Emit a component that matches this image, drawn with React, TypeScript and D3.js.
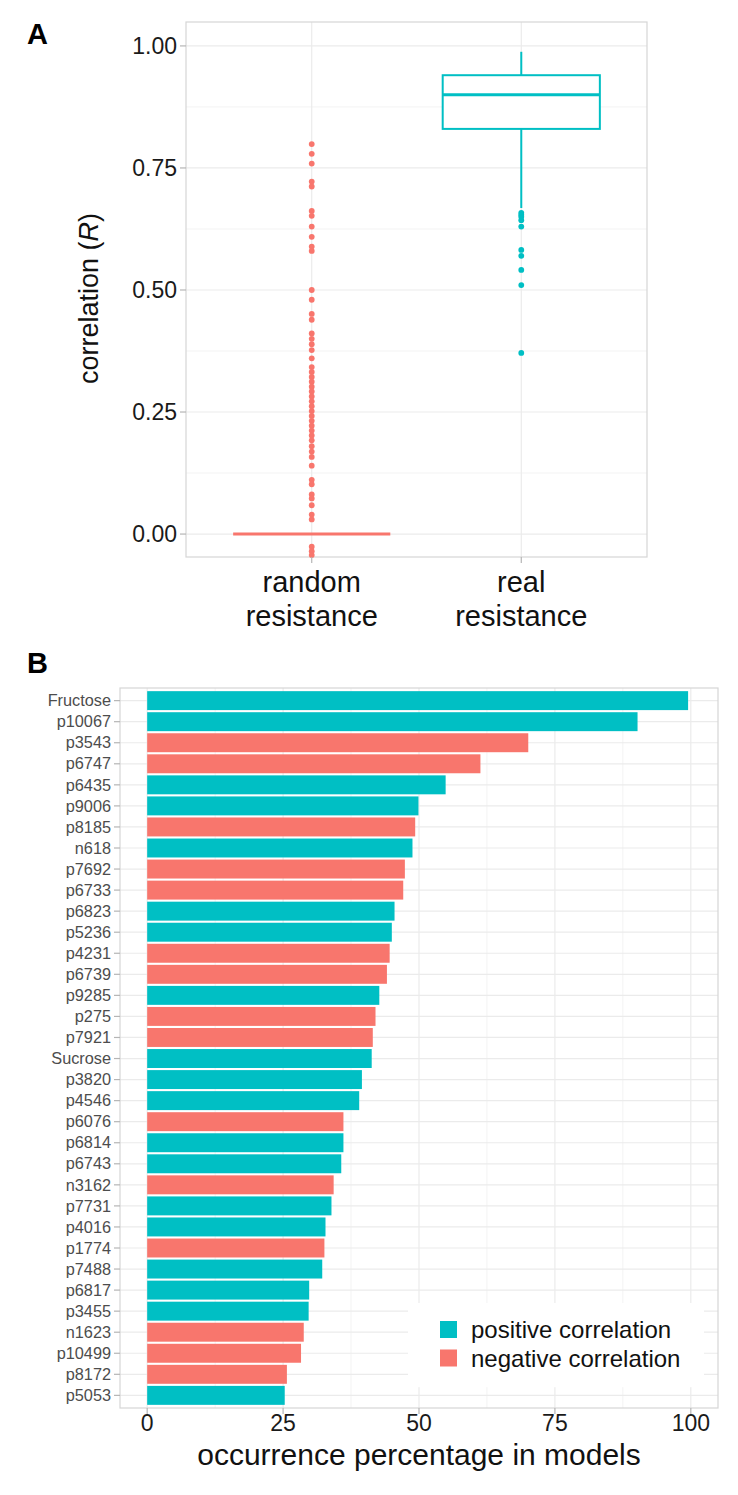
import React from 'react'
import { scaleLinear, scaleBand } from 'd3'

// panel A: correlation values
const groupsA = ['random resistance', 'real resistance']
const yTicksA = [0, 0.25, 0.5, 0.75, 1]
const yMinorA = [0.125, 0.375, 0.625, 0.875]
// real resistance box stats: lower whisker, q1, median, q3, upper whisker
const realBox = [0.668, 0.83, 0.9, 0.94, 0.988]
const realOutliers = [0.658, 0.654, 0.65, 0.643, 0.63, 0.582, 0.57, 0.541, 0.51, 0.371]
// random resistance collapses on zero
const randomBox = [0, 0, 0, 0, 0]
const randomOutliers = [
  0.799, 0.779, 0.759, 0.722, 0.712, 0.662, 0.652, 0.63, 0.609, 0.589, 0.58,
  0.5, 0.48, 0.451, 0.439, 0.411, 0.4, 0.389, 0.377, 0.36,
  0.342, 0.332, 0.322, 0.312, 0.302, 0.292, 0.282, 0.272, 0.262, 0.252,
  0.242, 0.232, 0.222, 0.212, 0.202, 0.192, 0.18, 0.169, 0.158,
  0.14, 0.111, 0.102, 0.081, 0.073, 0.059, 0.04, 0.03, -0.026, -0.035, -0.043,
]

// panel B: occurrence percentage
const features = [
  'Fructose', 'p10067', 'p3543', 'p6747', 'p6435', 'p9006', 'p8185', 'n618',
  'p7692', 'p6733', 'p6823', 'p5236', 'p4231', 'p6739', 'p9285', 'p275',
  'p7921', 'Sucrose', 'p3820', 'p4546', 'p6076', 'p6814', 'p6743', 'n3162',
  'p7731', 'p4016', 'p1774', 'p7488', 'p6817', 'p3455', 'n1623', 'p10499',
  'p8172', 'p5053',
]
const occurrence = [
  99.5, 90.2, 70.1, 61.3, 54.9, 49.9, 49.3, 48.8,
  47.4, 47.1, 45.5, 45.0, 44.6, 44.1, 42.7, 42.0,
  41.5, 41.3, 39.5, 39.0, 36.1, 36.1, 35.7, 34.3,
  33.9, 32.8, 32.6, 32.2, 29.8, 29.7, 28.8, 28.3,
  25.7, 25.3,
]
const direction = [
  '+', '+', '-', '-', '+', '+', '-', '+',
  '-', '-', '+', '+', '-', '-', '+', '-',
  '-', '+', '+', '+', '-', '+', '+', '-',
  '+', '+', '-', '+', '+', '+', '-', '-',
  '-', '+',
]
const xTicksB = [0, 25, 50, 75, 100]
const xMinorB = [12.5, 37.5, 62.5, 87.5]
const legendLabels = ['positive correlation', 'negative correlation']

const TEAL = '#00BFC4'
const RED = '#F8766D'
const GRID = '#ebebeb'
const MINOR = '#f3f3f3'
const BORDER = '#d6d6d6'
const TICK = '#b5b5b5'
const FONT = '"Liberation Sans", Arial, Helvetica, sans-serif'

function PanelA() {
  const left = 186, right = 647, top = 22, bottom = 557
  const x = scaleBand().domain(groupsA).range([left, right]).paddingInner(0.25).paddingOuter(0.225)
  const y = scaleLinear().domain([-0.047, 1.049]).range([bottom, top])
  const groups = [
    { name: groupsA[0], box: randomBox, out: randomOutliers, color: RED },
    { name: groupsA[1], box: realBox, out: realOutliers, color: TEAL },
  ]
  return (
    <g>
      <text x={27} y={44} fontSize={29} fontWeight="bold" fontFamily={FONT}>A</text>
      {yMinorA.map(v => (
        <line key={'m' + v} x1={left} x2={right} y1={y(v)} y2={y(v)} stroke={MINOR} strokeWidth={1} />
      ))}
      {yTicksA.map(v => (
        <line key={'g' + v} x1={left} x2={right} y1={y(v)} y2={y(v)} stroke={GRID} strokeWidth={1.2} />
      ))}
      {groupsA.map(g => {
        const cx = x(g)! + x.bandwidth() / 2
        return <line key={g} x1={cx} x2={cx} y1={top} y2={bottom} stroke={GRID} strokeWidth={1.2} />
      })}
      <rect x={left} y={top} width={right - left} height={bottom - top} fill="none" stroke={BORDER} strokeWidth={1.2} />
      {groups.map(g => {
        const x0 = x(g.name)!
        const w = x.bandwidth()
        const cx = x0 + w / 2
        const [lo, q1, med, q3, hi] = g.box
        return (
          <g key={g.name}>
            <line x1={cx} x2={cx} y1={y(lo)} y2={y(q1)} stroke={g.color} strokeWidth={2} />
            <line x1={cx} x2={cx} y1={y(q3)} y2={y(hi)} stroke={g.color} strokeWidth={2} />
            <rect x={x0} y={y(q3)} width={w} height={y(q1) - y(q3)} fill="white" stroke={g.color} strokeWidth={2} />
            <line x1={x0} x2={x0 + w} y1={y(med)} y2={y(med)} stroke={g.color} strokeWidth={3} />
            {g.out.map((v, i) => (
              <circle key={i} cx={cx} cy={y(v)} r={2.9} fill={g.color} />
            ))}
          </g>
        )
      })}
      {yTicksA.map(v => (
        <g key={'t' + v}>
          <line x1={left - 6} x2={left} y1={y(v)} y2={y(v)} stroke={TICK} strokeWidth={1.2} />
          <text x={left - 9} y={y(v)} dy="0.35em" textAnchor="end" fontSize={23} fill="#1a1a1a" fontFamily={FONT}>
            {v.toFixed(2)}
          </text>
        </g>
      ))}
      {groupsA.map(g => {
        const cx = x(g)! + x.bandwidth() / 2
        const parts = g.split(' ')
        return (
          <g key={'x' + g}>
            <line x1={cx} x2={cx} y1={bottom} y2={bottom + 6} stroke={TICK} strokeWidth={1.2} />
            <text x={cx} y={592} textAnchor="middle" fontSize={29} fill="#111" fontFamily={FONT}>{parts[0]}</text>
            <text x={cx} y={626} textAnchor="middle" fontSize={29} fill="#111" fontFamily={FONT}>{parts[1]}</text>
          </g>
        )
      })}
      <text transform={`translate(98,${(top + bottom) / 2 + 9}) rotate(-90)`} textAnchor="middle" fontSize={27} fill="#111" fontFamily={FONT}>
        correlation (<tspan fontStyle="italic">R</tspan>)
      </text>
    </g>
  )
}

function PanelB() {
  const left = 120, right = 718, top = 688, bottom = 1408
  const x = scaleLinear().domain([-5, 105]).range([left, right])
  const y = scaleBand().domain(features).range([top, bottom]).paddingInner(0.1).paddingOuter(0.15)
  const step = y.step()
  return (
    <g>
      <text x={27} y={673} fontSize={29} fontWeight="bold" fontFamily={FONT}>B</text>
      {xMinorB.map(v => (
        <line key={'m' + v} x1={x(v)} x2={x(v)} y1={top} y2={bottom} stroke={MINOR} strokeWidth={1} />
      ))}
      {xTicksB.map(v => (
        <line key={'g' + v} x1={x(v)} x2={x(v)} y1={top} y2={bottom} stroke={GRID} strokeWidth={1.2} />
      ))}
      {features.map(f => {
        const cy = y(f)! + y.bandwidth() / 2
        return <line key={'h' + f} x1={left} x2={right} y1={cy} y2={cy} stroke={GRID} strokeWidth={1.2} />
      })}
      {features.map((f, i) => (
        <rect key={'b' + f} x={x(0)} y={y(f)!} width={x(occurrence[i]) - x(0)} height={y.bandwidth()}
          fill={direction[i] === '+' ? TEAL : RED} />
      ))}
      <rect x={left} y={top} width={right - left} height={bottom - top} fill="none" stroke={BORDER} strokeWidth={1.2} />
      {features.map(f => {
        const cy = y(f)! + y.bandwidth() / 2
        return (
          <g key={'t' + f}>
            <line x1={left - 6} x2={left} y1={cy} y2={cy} stroke={TICK} strokeWidth={1.2} />
            <text x={left - 9} y={cy} dy="0.35em" textAnchor="end" fontSize={16.3} fill="#4d4d4d" fontFamily={FONT}>{f}</text>
          </g>
        )
      })}
      {xTicksB.map(v => (
        <g key={'x' + v}>
          <line x1={x(v)} x2={x(v)} y1={bottom} y2={bottom + 6} stroke={TICK} strokeWidth={1.2} />
          <text x={x(v)} y={1431} textAnchor="middle" fontSize={23} fill="#1a1a1a" fontFamily={FONT}>{v}</text>
        </g>
      ))}
      <text x={(left + right) / 2} y={1465} textAnchor="middle" fontSize={30} fill="#111" fontFamily={FONT}>
        occurrence percentage in models
      </text>
      <g>
        <rect x={408} y={1303} width={296} height={step * 4} fill="white" />
        {legendLabels.map((l, i) => (
          <g key={l}>
            <rect x={440} y={1321 + i * 28.5} width={17} height={17} fill={i === 0 ? TEAL : RED} />
            <text x={471} y={1338 + i * 28.5} fontSize={24} fill="#111" fontFamily={FONT}>{l}</text>
          </g>
        ))}
      </g>
    </g>
  )
}

export default function App() {
  return (
    <svg width={738} height={1495} style={{ position: 'absolute', left: 0, top: 0, background: 'white' }}>
      <rect width={738} height={1495} fill="white" />
      <PanelA />
      <PanelB />
    </svg>
  )
}
